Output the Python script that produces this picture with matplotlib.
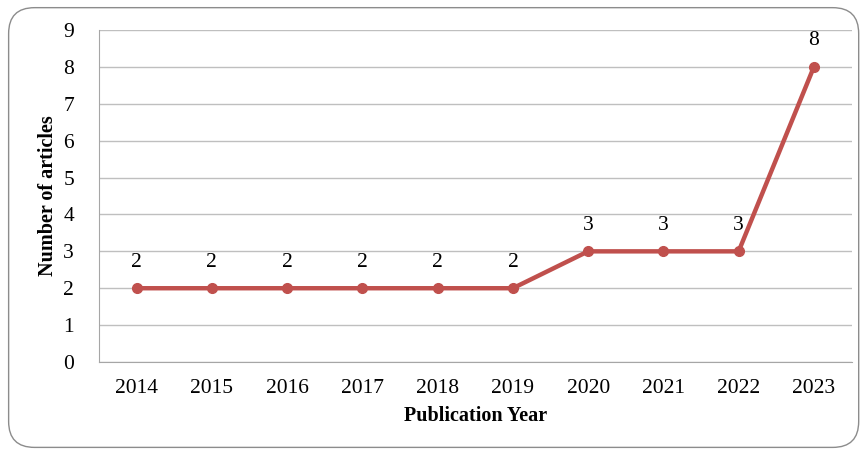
import matplotlib.pyplot as plt
from matplotlib.patches import FancyBboxPatch

years = ['2014', '2015', '2016', '2017', '2018', '2019', '2020', '2021', '2022', '2023']
articles = [2, 2, 2, 2, 2, 2, 3, 3, 3, 8]

plt.rcParams['font.family'] = ['Liberation Serif', 'DejaVu Serif']

fig = plt.figure(figsize=(8.63, 4.51), dpi=100)
ax = fig.add_axes([0.1147, 0.1973, 0.872, 0.7362])

# rounded chart-area border
border = FancyBboxPatch((0.010, 0.008), 0.985, 0.975, boxstyle='round,pad=0,rounding_size=0.03',
                        transform=fig.transFigure, fill=False, edgecolor='#8c8c8c', linewidth=1.0,
                        mutation_aspect=863 / 451)
fig.patches.append(border)

x = range(len(years))
ax.plot(x, articles, color='#C0504D', linewidth=3.2, marker='o', markersize=7, zorder=3)
for xi, v in zip(x, articles):
    ax.text(xi, v + 0.45, str(v), ha='center', va='bottom', fontsize=15.5)

ax.set_xlim(-0.5, len(years) - 0.5)
ax.set_ylim(0, 9)
ax.set_yticks(range(10))
ax.set_xticks(list(x))
ax.set_xticklabels(years)
ax.tick_params(length=0, labelsize=15.5)
ax.tick_params(axis='x', pad=12)
ax.tick_params(axis='y', pad=18)
ax.grid(axis='y', color='#BFBFBF', linewidth=1.0)
ax.set_axisbelow(True)
for s in ['top', 'right']:
    ax.spines[s].set_visible(False)
ax.spines['left'].set_color('#A6A6A6')
ax.spines['bottom'].set_color('#A6A6A6')

ax.set_xlabel('Publication Year', fontsize=14.5, fontweight='bold', labelpad=6)
ax.set_ylabel('Number of articles', fontsize=14.5, fontweight='bold', labelpad=4)

fig.savefig('out.png', dpi=100)
